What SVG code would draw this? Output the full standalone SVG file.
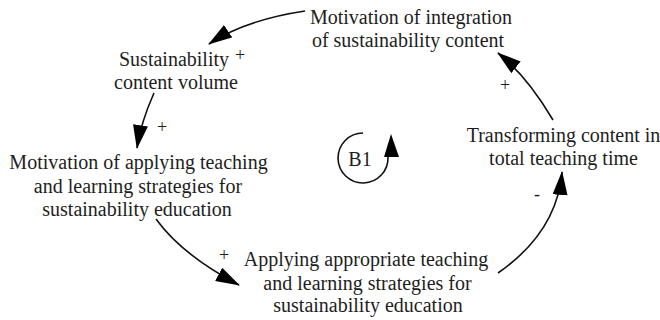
<svg xmlns="http://www.w3.org/2000/svg" width="660" height="320" viewBox="0 0 660 320">
<style>
text{font-family:'Liberation Serif','DejaVu Serif',serif;fill:#1e1e1e;text-anchor:middle}
.t{font-size:20px}
.s{font-size:18px}
.c{fill:none;stroke:#111;stroke-width:1.6}
</style>
<defs>
<marker id="ah" viewBox="0 0 24 15" refX="23" refY="7.5" markerWidth="24" markerHeight="15" markerUnits="userSpaceOnUse" orient="auto">
<path d="M0,0 L24,7.5 L0,15 Z" fill="#000"/>
</marker>
</defs>
<rect width="660" height="320" fill="#fff"/>
<g id="connectors">
<path class="c" d="M305,11 Q245,20 209,44" marker-end="url(#ah)"/>
<path class="c" d="M154,93 Q141,122 137,148" marker-end="url(#ah)"/>
<path class="c" d="M156,219 Q182,255 239,285" marker-end="url(#ah)"/>
<path class="c" d="M498,273 Q557,232 562,172" marker-end="url(#ah)"/>
<path class="c" d="M553,120 Q527,76 498,53" marker-end="url(#ah)"/>
<text class="s" x="240" y="60.5">+</text>
<text class="s" x="162" y="133">+</text>
<text class="s" x="224" y="261">+</text>
<text class="s" x="505" y="91">+</text>
<text class="s" x="537" y="200">-</text>
</g>
<g id="loop-B1">
<path class="c" d="M363,133 A25,25 0 1 0 388,157"/>
<polygon points="391,134 399,157 384,157" fill="#000"/>
<text class="t" x="360" y="166">B1</text>
</g>
<g id="node-motivation-integration">
<text class="t" x="411" y="24">Motivation of integration</text>
<text class="t" x="408" y="47">of sustainability content</text>
</g>
<g id="node-content-volume">
<text class="t" x="174" y="66">Sustainability</text>
<text class="t" x="176" y="88.5">content volume</text>
</g>
<g id="node-motivation-applying">
<text class="t" x="138.5" y="169">Motivation of applying teaching</text>
<text class="t" x="138" y="193">and learning strategies for</text>
<text class="t" x="137" y="216">sustainability education</text>
</g>
<g id="node-applying">
<text class="t" x="366" y="266">Applying appropriate teaching</text>
<text class="t" x="367.5" y="289.5">and learning strategies for</text>
<text class="t" x="368" y="312">sustainability education</text>
</g>
<g id="node-transforming">
<text class="t" x="563.5" y="142">Transforming content in</text>
<text class="t" x="563.5" y="165">total teaching time</text>
</g>
</svg>
